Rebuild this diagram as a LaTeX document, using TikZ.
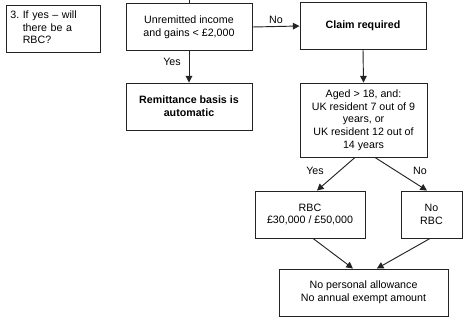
\documentclass[tikz,border=0pt]{standalone}
\usepackage{fontspec}
\setmainfont{Liberation Sans}
\usetikzlibrary{arrows.meta}
\definecolor{BoxLine}{RGB}{35,35,35}
\tikzset{
  box/.style={draw=BoxLine,line width=0.7pt,minimum width=94.5pt,
    minimum height=35.25pt,align=center,inner sep=2pt,
    font=\fontsize{8}{9.5}\selectfont},
  boldbox/.style={box,font=\fontsize{8}{9.5}\selectfont\bfseries},
  arrow/.style={-{Triangle[length=5pt,width=5pt]},line width=0.7pt,BoxLine},
  tag/.style={font=\fontsize{8}{9.5}\selectfont,inner sep=1pt}
}

\begin{document}
\begin{tikzpicture}[x=0.75pt,y=-0.75pt]
\useasboundingbox (0,0) rectangle (466,329);

\node[box,minimum width=70.5pt,text width=64pt,align=left] (q3) at (53,28.5)
  {\begin{tabular}{@{}l@{\ }l@{}}3.&If yes -- will\\ &there be a\\ &RBC?\end{tabular}};

\node[box] (unrem) at (189,27) {Unremitted income\\and gains < £2,000};
\node[boldbox] (claim) at (363,26) {Claim required};
\node[boldbox] (remit) at (189,106.5) {Remittance basis is\\automatic};
\node[box,minimum width=95.25pt,minimum height=55.5pt] (aged) at (363.5,120)
  {Aged > 18, and:\\UK resident 7 out of 9\\years, or\\UK resident 12 out of\\14 years};
\node[box,minimum width=82.5pt] (rbc) at (310,214.5) {RBC\\£30,000 / £50,000};
\node[box,minimum width=45.75pt] (norbc) at (431.5,214.5) {No\\RBC};
\node[box,minimum width=126.75pt] (final) at (363.5,292.5)
  {No personal allowance\\No annual exempt amount};

\coordinate (top) at (189,0);
\draw[line width=0.7pt,BoxLine] (top) -- (unrem.north);

\draw[arrow] (unrem.south) -- (remit.north);
\node[tag] (yes1) at (172,62) {Yes};
\draw[arrow] (unrem.east) -- (claim.west);
\node[tag] (no1) at (276,20) {No};
\draw[arrow] (claim.south) -- (aged.north);

\draw[arrow] ([xshift=-6.4pt]aged.south) -- ([xshift=5.2pt]rbc.north);
\node[tag] (yes2) at (315,171) {Yes};
\draw[arrow] ([xshift=8.6pt]aged.south) -- ([xshift=-3.4pt]norbc.north);
\node[tag] (no2) at (420,171) {No};

\draw[arrow] ([xshift=2.3pt]rbc.south) -- ([xshift=-7.9pt]final.north);
\draw[arrow] ([xshift=-1.1pt]norbc.south) -- ([xshift=10pt]final.north);

\end{tikzpicture}
\end{document}
